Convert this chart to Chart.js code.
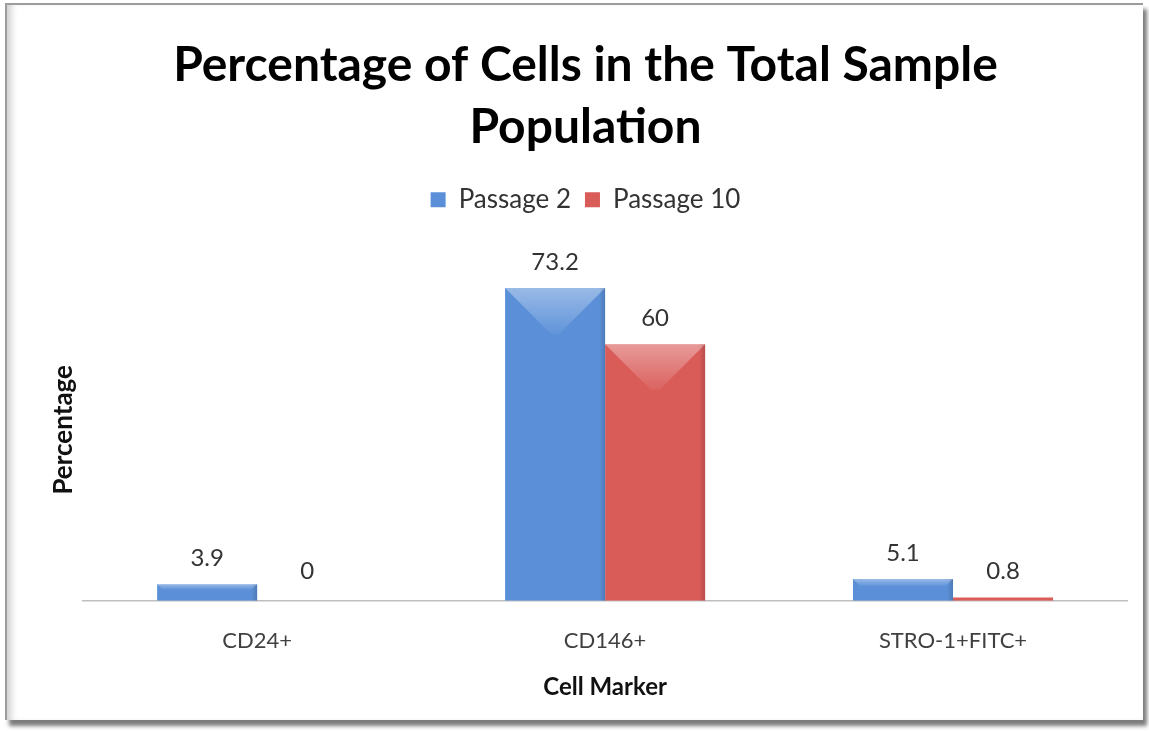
<!DOCTYPE html>
<html>
<head>
<meta charset="utf-8">
<title>Percentage of Cells in the Total Sample Population</title>
<script src="https://cdn.jsdelivr.net/npm/chart.js@4/dist/chart.umd.min.js"></script>
<style>
  html, body { margin: 0; padding: 0; background: #fff; }
  #frame {
    position: absolute; left: 5px; top: 3px; width: 1136px; height: 715px;
    border-top: 2px solid #9c9c9c; border-left: 2px solid #9c9c9c;
    box-shadow: 4px 6px 4px #7c7c7c, inset 8px 0 7px -4px #cfcfcf;
    background: #fff;
  }
  #wrap { position: absolute; left: 0; top: 0; width: 1149px; height: 731px; }
</style>
</head>
<body>
<div id="frame"></div>
<div id="wrap"><canvas id="cellChart"></canvas></div>
<script>
// categories and series
const markers = ['CD24+', 'CD146+', 'STRO-1+FITC+'];
const passage2 = [3.9, 73.2, 5.1];
const passage10 = [0, 60, 0.8];
const seriesNames = ['Passage 2', 'Passage 10'];

const blue = '#5b90d8';
const red = '#d95c59';

// extra room under the legend before the plot starts
const legendGap = {
  id: 'legendGap',
  beforeInit(chart) {
    const fit = chart.legend.fit;
    chart.legend.fit = function () {
      fit.call(this);
      this.height += 36;
    };
  }
};

// light top facet and shaded right edge, drawn over each bar
const bevel = {
  id: 'bevel',
  afterDatasetsDraw(chart) {
    const ctx = chart.ctx;
    chart.data.datasets.forEach((ds, i) => {
      chart.getDatasetMeta(i).data.forEach(bar => {
        const p = bar.getProps(['x', 'y', 'base', 'width'], true);
        const h = p.base - p.y;
        if (h < 5) return;
        const l = p.x - p.width / 2, r = p.x + p.width / 2;
        const d = Math.min(p.width * 0.46, h * 0.32);
        ctx.save();
        const g = ctx.createLinearGradient(0, p.y, 0, p.y + d);
        g.addColorStop(0, 'rgba(255,255,255,0.38)');
        g.addColorStop(1, 'rgba(255,255,255,0.04)');
        ctx.fillStyle = g;
        ctx.beginPath();
        ctx.moveTo(l, p.y);
        ctx.lineTo(r, p.y);
        ctx.lineTo(r - d, p.y + d);
        ctx.lineTo(l + d, p.y + d);
        ctx.closePath();
        ctx.fill();
        const e = ctx.createLinearGradient(r - 6, 0, r, 0);
        e.addColorStop(0, 'rgba(0,0,0,0)');
        e.addColorStop(1, 'rgba(0,0,0,0.15)');
        ctx.fillStyle = e;
        ctx.fillRect(r - 6, p.y, 6, h);
        ctx.restore();
      });
    });
  }
};

// value written above every bar
const valueLabels = {
  id: 'valueLabels',
  afterDatasetsDraw(chart) {
    const ctx = chart.ctx;
    ctx.save();
    ctx.font = '24px Lato';
    ctx.fillStyle = '#333';
    ctx.textAlign = 'center';
    ctx.textBaseline = 'middle';
    chart.data.datasets.forEach((ds, i) => {
      chart.getDatasetMeta(i).data.forEach((bar, j) => {
        ctx.fillText(String(ds.data[j]), bar.x, Math.min(bar.y, bar.base - 4) - 26);
      });
    });
    ctx.restore();
  }
};

new Chart(document.getElementById('cellChart'), {
  type: 'bar',
  data: {
    labels: markers,
    datasets: [{
      label: seriesNames[0],
      data: passage2,
      backgroundColor: blue,
      categoryPercentage: 0.575,
      barPercentage: 1.0
    }, {
      label: seriesNames[1],
      data: passage10,
      backgroundColor: red,
      categoryPercentage: 0.575,
      barPercentage: 1.0
    }]
  },
  options: {
    responsive: true,
    maintainAspectRatio: false,
    animation: false,
    layout: { padding: { top: 5, left: 44, right: 22, bottom: 25 } },
    plugins: {
      title: {
        display: true,
        text: ['Percentage of Cells in the Total Sample', 'Population'],
        color: '#000',
        font: { family: 'Lato', size: 48, weight: 'bold', lineHeight: 1.29 },
        padding: { top: 30, bottom: 14 }
      },
      legend: {
        position: 'top',
        labels: {
          color: '#333',
          font: { family: 'Lato', size: 26 },
          boxWidth: 15,
          boxHeight: 15,
          padding: 14
        }
      },
      tooltip: { enabled: false }
    },
    scales: {
      x: {
        grid: { display: false },
        border: { display: true, color: '#bfbfbf', width: 1.5 },
        ticks: { color: '#404040', font: { family: 'Lato', size: 22 }, padding: 19 },
        title: {
          display: true,
          text: 'Cell Marker',
          color: '#111',
          font: { family: 'Lato', size: 24, weight: 'bold' },
          padding: { top: 0, bottom: 4 }
        }
      },
      y: {
        min: 0,
        max: 80,
        grid: { display: false, drawTicks: false },
        border: { display: false },
        ticks: { display: false },
        title: {
          display: true,
          text: 'Percentage',
          color: '#111',
          font: { family: 'Lato', size: 26, weight: 'bold' }
        }
      }
    }
  },
  plugins: [legendGap, bevel, valueLabels]
});
</script>
</body>
</html>
